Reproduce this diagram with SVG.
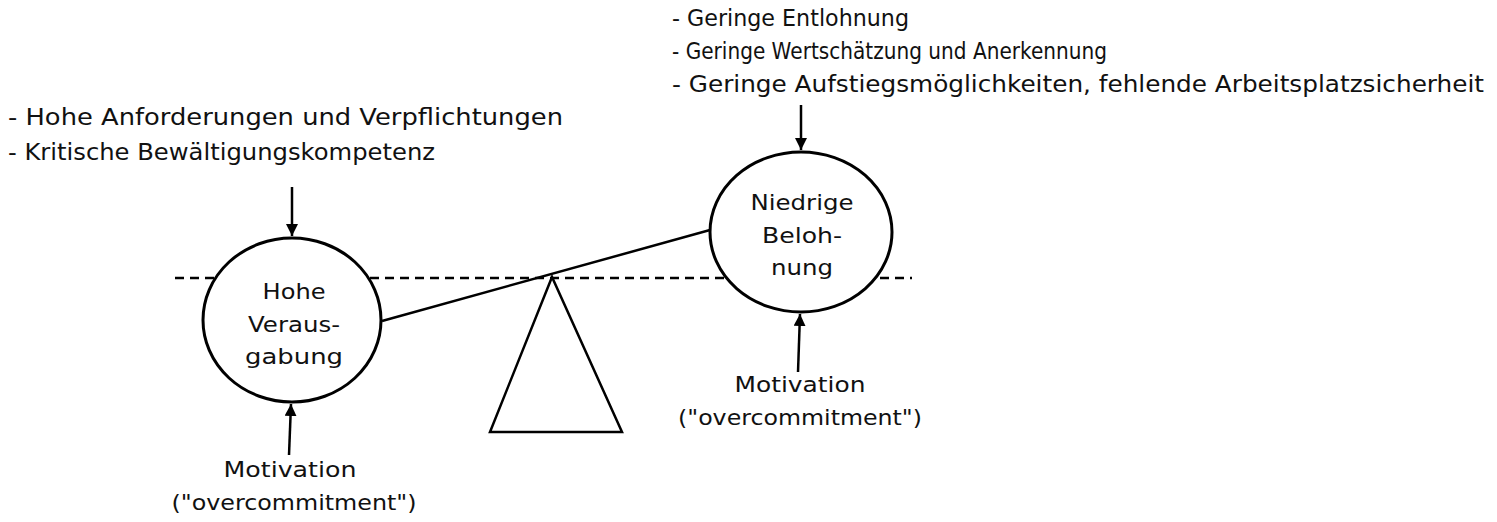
<svg xmlns="http://www.w3.org/2000/svg" width="1497" height="522" viewBox="0 0 1497 522">
<style>
text{font-family:"DejaVu Sans","Liberation Sans",sans-serif;font-size:22px;fill:#111}
.l{font-size:23px}
.c{text-anchor:middle}
.ln{stroke:#000;stroke-width:2.5;fill:none}
.node{fill:#fff;stroke:#000;stroke-width:3}
</style>
<defs>
<marker id="ah" markerWidth="12" markerHeight="12" refX="10" refY="5" orient="auto" markerUnits="userSpaceOnUse" viewBox="0 0 10 10">
<path d="M0,0 L10,5 L0,10 z" fill="#000"/>
</marker>
</defs>
<g id="baseline">
<line x1="175" y1="278" x2="912" y2="278" stroke="#000" stroke-width="2.5" stroke-dasharray="9,6"/>
</g>
<g id="fulcrum">
<polygon points="552,277 490,432 622,432" fill="#fff" stroke="#000" stroke-width="2.5"/>
</g>
<g id="connectors">
<line class="ln" x1="382" y1="321" x2="710" y2="230"/>
<line class="ln" x1="292" y1="187" x2="292" y2="236" marker-end="url(#ah)"/>
<line class="ln" x1="289" y1="455" x2="291" y2="404" marker-end="url(#ah)"/>
<line class="ln" x1="798" y1="372" x2="800" y2="314" marker-end="url(#ah)"/>
<line class="ln" x1="801" y1="105" x2="801" y2="150" marker-end="url(#ah)"/>
</g>
<g id="node-left">
<ellipse class="node" cx="292" cy="320" rx="89" ry="82"/>
<text class="c" x="294" y="299" textLength="63" lengthAdjust="spacingAndGlyphs">Hohe</text>
<text class="c" x="294" y="332" textLength="92" lengthAdjust="spacingAndGlyphs">Veraus-</text>
<text class="c" x="294" y="364" textLength="98" lengthAdjust="spacingAndGlyphs">gabung</text>
</g>
<g id="node-right">
<ellipse class="node" cx="801" cy="232" rx="91" ry="80"/>
<text class="c" x="802" y="210" textLength="103" lengthAdjust="spacingAndGlyphs">Niedrige</text>
<text class="c" x="802" y="243" textLength="80" lengthAdjust="spacingAndGlyphs">Beloh-</text>
<text class="c" x="802" y="275" textLength="62" lengthAdjust="spacingAndGlyphs">nung</text>
</g>
<g id="list-left">
<text class="l" x="8" y="125" textLength="555" lengthAdjust="spacingAndGlyphs">- Hohe Anforderungen und Verpflichtungen</text>
<text class="l" x="8" y="160" textLength="427" lengthAdjust="spacingAndGlyphs">- Kritische Bewältigungskompetenz</text>
</g>
<g id="list-right">
<text class="l" x="672" y="26" textLength="237" lengthAdjust="spacingAndGlyphs">- Geringe Entlohnung</text>
<text class="l" x="672" y="59" textLength="435" lengthAdjust="spacingAndGlyphs">- Geringe Wertschätzung und Anerkennung</text>
<text class="l" x="672" y="92" textLength="812" lengthAdjust="spacingAndGlyphs">- Geringe Aufstiegsmöglichkeiten, fehlende Arbeitsplatzsicherheit</text>
</g>
<g id="motivation-left">
<text class="c" x="290" y="477" textLength="133" lengthAdjust="spacingAndGlyphs">Motivation</text>
<text class="c" x="294" y="510" textLength="245" lengthAdjust="spacingAndGlyphs">("overcommitment")</text>
</g>
<g id="motivation-right">
<text class="c" x="800" y="392" textLength="131" lengthAdjust="spacingAndGlyphs">Motivation</text>
<text class="c" x="800" y="425" textLength="244" lengthAdjust="spacingAndGlyphs">("overcommitment")</text>
</g>
</svg>
